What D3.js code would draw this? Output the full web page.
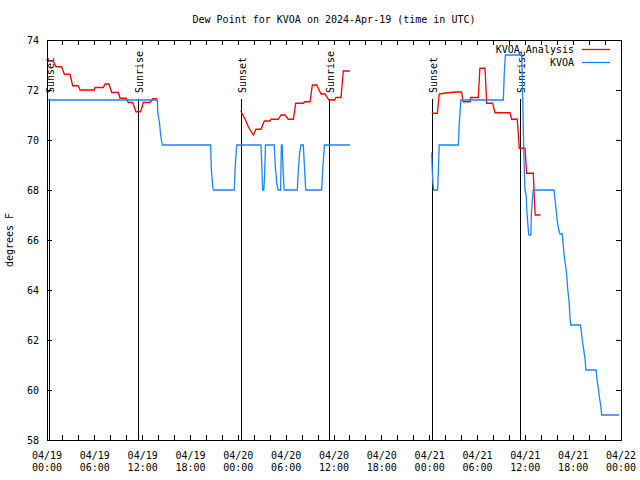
<!DOCTYPE html>
<html><head><meta charset="utf-8">
<script src="https://cdn.jsdelivr.net/npm/d3@7"></script>
<style>
html,body{margin:0;padding:0;background:#fff;}
text{font-family:"DejaVu Sans Mono",monospace;font-size:10px;fill:#000;}
</style></head>
<body><svg id="c" width="640" height="480"></svg>
<script>
// ---- data (hours after 2024-04-19 00:00 UTC) ----
const titleText = "Dew Point for KVOA on 2024-Apr-19 (time in UTC)";
const yLabel = "degrees F";
const seriesNames = ["KVOA Analysis", "KVOA"];
const yTicks = [58, 60, 62, 64, 66, 68, 70, 72, 74];
const sunsetHours = [0.2, 24.3, 48.27];
const sunriseHours = [11.37, 35.35, 59.38];

const analysisHours = [0.04,0.79,1.13,1.84,2.17,2.89,3.22,3.93,4.14,5.94,6.02,7.07,7.28,7.78,8.11,8.95,9.16,9.91,10.2,10.75,11.16,11.75,12.08,12.92,13.26,13.84,
  null,
  24.3,24.9,25.3,25.88,26.2,26.84,27.26,27.97,28.1,29.0,29.35,29.85,30.27,30.9,31.2,32.16,32.3,33.0,33.28,33.83,34.37,34.87,35.37,36.1,36.25,36.88,37.17,38.0,
  null,
  48.26,48.96,49.2,50.0,51.2,52.0,52.2,53.06,53.15,54.1,54.3,54.94,55.15,55.9,56.2,58.08,58.29,58.99,59.24,59.96,60.17,61.0,61.1,61.2,61.25,61.9];
const analysisValues = [73.16,73.16,72.93,72.93,72.63,72.63,72.17,72.17,72.0,72.0,72.1,72.1,72.24,72.24,71.9,71.9,71.67,71.67,71.5,71.5,71.13,71.13,71.5,71.5,71.65,71.65,
  null,
  71.16,70.8,70.5,70.2,70.43,70.43,70.76,70.76,70.83,70.83,71.0,71.0,70.83,70.83,71.47,71.47,71.53,71.53,72.2,72.2,71.84,71.84,71.6,71.6,71.7,71.7,72.76,72.76,
  null,
  71.07,71.07,71.84,71.88,71.92,71.92,71.53,71.53,71.7,71.7,72.87,72.87,71.47,71.47,71.09,71.09,70.83,70.83,69.67,69.67,68.67,68.67,67.9,67.2,67.0,67.0];

const obsHours = [0.15,13.84,13.9,14.1,14.3,14.46,20.53,20.6,20.8,20.9,23.5,23.6,23.8,26.84,26.95,27.05,27.2,27.3,27.4,28.5,28.65,28.85,29.0,29.3,29.4,29.5,29.6,29.75,31.4,31.55,31.7,31.85,32.15,32.3,32.45,34.45,34.6,34.8,38.0,
  null,
  48.26,48.3,48.4,48.5,49.0,49.1,49.2,51.6,51.7,51.85,51.9,57.24,57.35,57.5,59.55,59.65,59.8,59.95,60.1,60.2,60.4,60.45,60.7,60.75,60.9,61.0,63.6,63.77,63.9,64.02,64.2,64.35,64.64,64.77,64.9,65.07,65.2,65.3,65.5,65.6,65.7,66.86,66.98,67.07,67.2,67.36,67.5,67.6,68.87,69.03,69.16,69.28,69.45,69.58,71.75];
const obsValues = [71.6,71.6,71.1,70.7,70.1,69.8,69.8,68.9,68.1,68.0,68.0,68.9,69.8,69.8,68.9,68.0,68.0,68.6,69.8,69.8,68.9,68.2,68.0,68.0,69.8,69.8,68.9,68.0,68.0,68.9,69.5,69.8,69.8,68.9,68.0,68.0,68.9,69.8,69.8,
  null,
  69.5,69.0,68.3,68.0,68.0,68.9,69.8,69.8,70.6,71.3,71.6,71.6,72.6,73.4,73.4,72.0,69.6,68.0,67.8,67.1,66.3,66.2,66.2,67.0,67.7,68.0,68.0,67.47,67.1,66.73,66.4,66.24,66.24,65.73,65.3,64.93,64.56,64.1,63.5,62.9,62.6,62.6,62.47,62.2,61.87,61.53,61.2,60.8,60.8,60.33,60.07,59.73,59.4,59.0,59.0];

// ---- chart ----
const base = Date.UTC(2024, 3, 19);
const t = h => new Date(base + h * 3600e3);
const L = 47, R = 621, T = 40, B = 440;
const x = d3.scaleUtc().domain([t(0), t(72)]).range([L, R]);
const y = d3.scaleLinear().domain([58, 74]).range([B, T]);
const svg = d3.select("#c");

svg.append("text").attr("x", (L + R) / 2).attr("y", 23).attr("text-anchor", "middle").text(titleText);
svg.append("text").attr("transform", `translate(13,240) rotate(-90)`).attr("text-anchor", "middle").text(yLabel);

// ticks
const xt = d3.range(0, 73, 2).map(t);
const g = svg.append("g").attr("shape-rendering", "crispEdges").attr("stroke", "#000");
xt.forEach(d => {
  g.append("line").attr("x1", x(d)).attr("x2", x(d)).attr("y1", B).attr("y2", B - 5);
  g.append("line").attr("x1", x(d)).attr("x2", x(d)).attr("y1", T).attr("y2", T + 5);
});
yTicks.forEach(v => {
  g.append("line").attr("x1", L).attr("x2", L + 5).attr("y1", y(v)).attr("y2", y(v));
  g.append("line").attr("x1", R).attr("x2", R - 5).attr("y1", y(v)).attr("y2", y(v));
});
g.append("rect").attr("x", L).attr("y", T).attr("width", R - L).attr("height", B - T).attr("fill", "none");

const fd = d3.utcFormat("%m/%d"), fh = d3.utcFormat("%H:%M");
d3.range(0, 73, 6).map(t).forEach(d => {
  svg.append("text").attr("x", x(d)).attr("y", 459).attr("text-anchor", "middle").text(fd(d));
  svg.append("text").attr("x", x(d)).attr("y", 471).attr("text-anchor", "middle").text(fh(d));
});
yTicks.forEach(v => {
  svg.append("text").attr("x", 39).attr("y", y(v) + 4).attr("text-anchor", "end").text(v);
});

// sunrise / sunset
[[sunsetHours, "Sunset"], [sunriseHours, "Sunrise"]].forEach(([hs, lab]) => {
  hs.forEach(h => {
    const xx = Math.round(x(t(h))) + 0.5;
    svg.append("line").attr("x1", xx).attr("x2", xx).attr("y1", 99).attr("y2", B).attr("stroke", "#000");
    svg.append("text").attr("transform", `translate(${xx + 4},93) rotate(-90)`).attr("text-anchor", "start").text(lab);
  });
});

// legend
const leg = [["#ff0000", 49], ["#1a85ff", 62]];
seriesNames.forEach((n, i) => {
  svg.append("text").attr("x", 574).attr("y", leg[i][1] + 4).attr("text-anchor", "end").text(n);
  svg.append("line").attr("x1", 582).attr("x2", 610).attr("y1", leg[i][1] + 0.5).attr("y2", leg[i][1] + 0.5)
    .attr("stroke", leg[i][0]).attr("stroke-width", 1.3);
});

function pts(hs, vs) { return hs.map((h, i) => (h === null ? null : [t(h), vs[i]])); }
const line = d3.line().defined(d => d !== null).x(d => x(d[0])).y(d => y(d[1]));
svg.append("path").attr("d", line(pts(analysisHours, analysisValues))).attr("fill", "none").attr("stroke", "#ff0000").attr("stroke-width", 1.3);
svg.append("path").attr("d", line(pts(obsHours, obsValues))).attr("fill", "none").attr("stroke", "#1a85ff").attr("stroke-width", 1.3);
</script></body></html>
